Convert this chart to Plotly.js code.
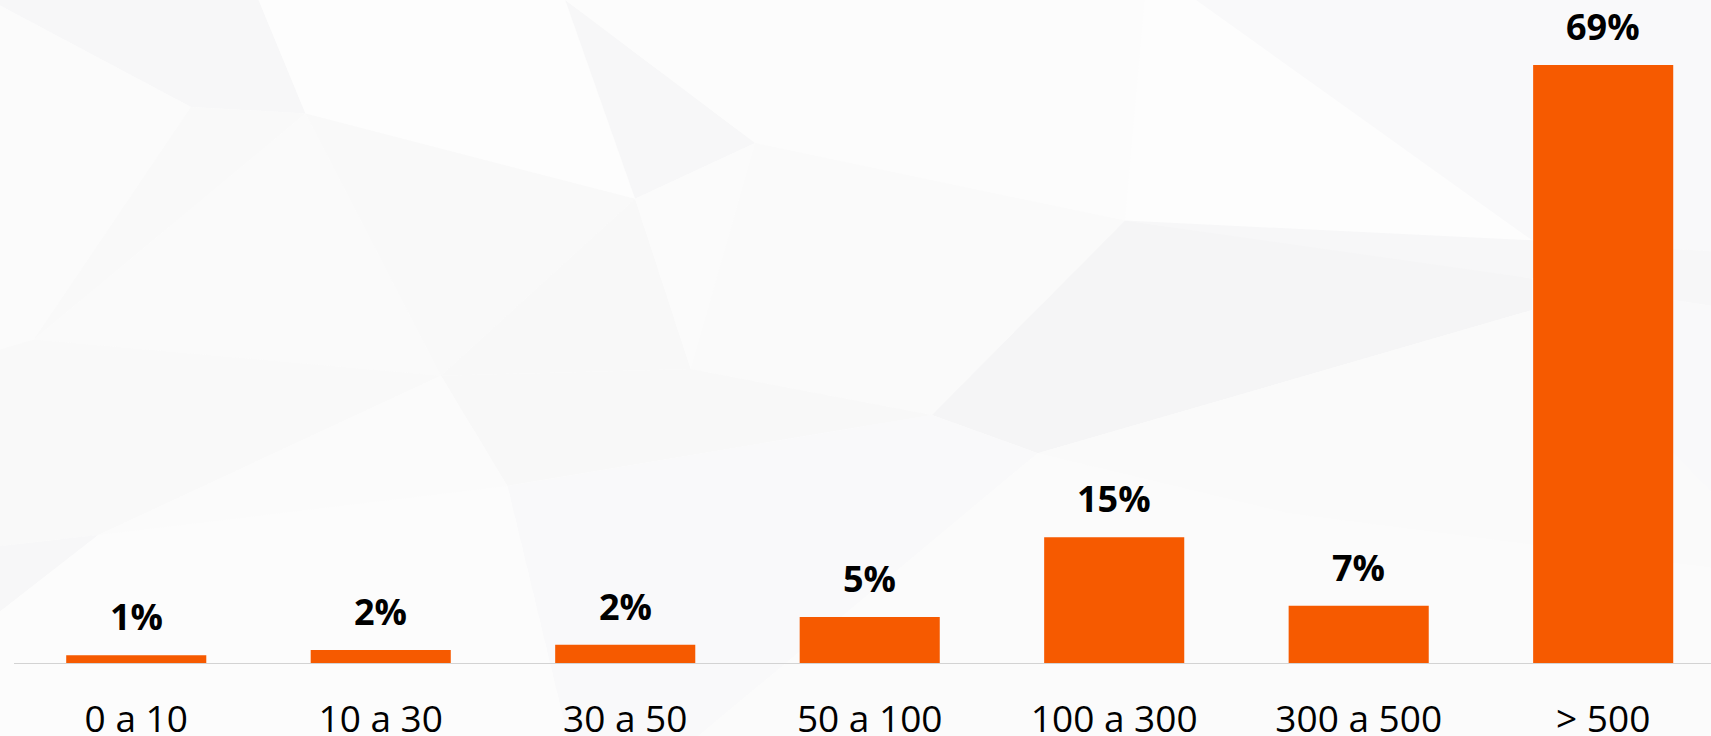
<!DOCTYPE html>
<html>
<head>
<meta charset="utf-8">
<script src="https://cdn.plot.ly/plotly-3.0.1.min.js"></script>
<style>
  html, body { margin: 0; padding: 0; background: #fcfcfc; }
  #wrap { position: relative; width: 1711px; height: 736px; overflow: hidden; }
  #bg { position: absolute; left: 0; top: 0; width: 1711px; height: 736px; }
  #chart { position: absolute; left: 0; top: 0; width: 1711px; height: 736px; }
</style>
</head>
<body>
<div id="wrap">
<svg id="bg" viewBox="0 0 1568 674" preserveAspectRatio="none" xmlns="http://www.w3.org/2000/svg">
  <rect x="0" y="0" width="1568" height="674" fill="#fcfcfc"/>
  <polygon points="0,0 237,0 280,104 175,98 0,5" fill="#f7f7f8"/>
  <polygon points="0,5 175,98 31,311 0,320" fill="#fbfbfb"/>
  <polygon points="237,0 518,0 582,182 280,104" fill="#fdfdfd"/>
  <polygon points="175,98 280,104 31,311" fill="#f9f9f9"/>
  <polygon points="280,104 404,344 31,311" fill="#fafafa"/>
  <polygon points="280,104 582,182 404,344" fill="#f9f9f9"/>
  <polygon points="582,182 633,338 404,344" fill="#f8f8f8"/>
  <polygon points="518,0 692,131 582,182" fill="#f7f7f8"/>
  <polygon points="582,182 692,131 633,338" fill="#fbfbfb"/>
  <polygon points="518,0 1049,0 1031,202 692,131" fill="#fcfcfc"/>
  <polygon points="692,131 1031,202 854,380 633,338" fill="#fafafa"/>
  <polygon points="1049,0 1096,0 1404,220 1031,202" fill="#fdfdfd"/>
  <polygon points="1096,0 1568,0 1568,230 1404,220" fill="#f9f9fa"/>
  <polygon points="1031,202 1271,237 1404,255 1404,220" fill="#f7f7f8"/>
  <polygon points="1404,220 1568,230 1568,280 1404,255" fill="#f7f7f8"/>
  <polygon points="1031,202 1404,255 1404,284 951,415 854,380" fill="#f5f5f6"/>
  <polygon points="1404,255 1568,280 1568,450 1404,284" fill="#f9f9fa"/>
  <polygon points="31,311 404,344 90,490 0,500 0,320" fill="#f9f9f9"/>
  <polygon points="404,344 633,338 854,380 465,445" fill="#f8f8f8"/>
  <polygon points="90,490 465,445 404,344" fill="#fbfbfb"/>
  <polygon points="0,500 90,490 0,560" fill="#f7f7f8"/>
  <polygon points="465,445 854,380 951,415 640,674 520,674" fill="#f9f9fa"/>
  <polygon points="951,415 1404,284 1568,450 1568,520 1180,470" fill="#fafafa"/>
  <polygon points="951,415 1180,470 1568,520 1568,674 640,674" fill="#fbfbfb"/>
  <polygon points="90,490 465,445 520,674 0,674 0,560" fill="#fcfcfc"/>
</svg>
<div id="chart"></div>
</div>
<script>
// Data
const categories = ["0 a 10", "10 a 30", "30 a 50", "50 a 100", "100 a 300", "300 a 500", "> 500"];
const values = [0.9, 1.5, 2.1, 5.3, 14.5, 6.6, 69.0];
const valueLabels = ["1%", "2%", "2%", "5%", "15%", "7%", "69%"];

const barColor = "#f65a00";

const trace = {
  type: "bar",
  x: categories,
  y: values,
  marker: { color: barColor, line: { width: 0 } },
  hoverinfo: "skip",
  showlegend: false
};

const annotations = categories.map((c, i) => ({
  x: c,
  y: values[i],
  xref: "x",
  yref: "y",
  text: valueLabels[i],
  showarrow: false,
  yanchor: "bottom",
  xanchor: "center",
  yshift: 12,
  font: { family: "Open Sans, sans-serif", size: 36, color: "#000000", weight: 700 }
}));

const layout = {
  width: 1711,
  height: 736,
  margin: { l: 14, r: 0, t: 0, b: 73, pad: 0 },
  paper_bgcolor: "rgba(0,0,0,0)",
  plot_bgcolor: "rgba(0,0,0,0)",
  bargap: 0.427,
  xaxis: {
    type: "category",
    range: [-0.5, 6.441],
    showgrid: false,
    zeroline: false,
    showline: true,
    linecolor: "#d3d3d3",
    linewidth: 1,
    ticks: "",
    ticklabelstandoff: 24,
    tickfont: { family: "Open Sans, sans-serif", size: 37, color: "#000000" },
    fixedrange: true
  },
  yaxis: {
    range: [0, 76.5],
    visible: false,
    showgrid: false,
    zeroline: false,
    fixedrange: true
  },
  annotations: annotations
};

Plotly.newPlot("chart", [trace], layout, { displayModeBar: false, staticPlot: true });
</script>
</body>
</html>
